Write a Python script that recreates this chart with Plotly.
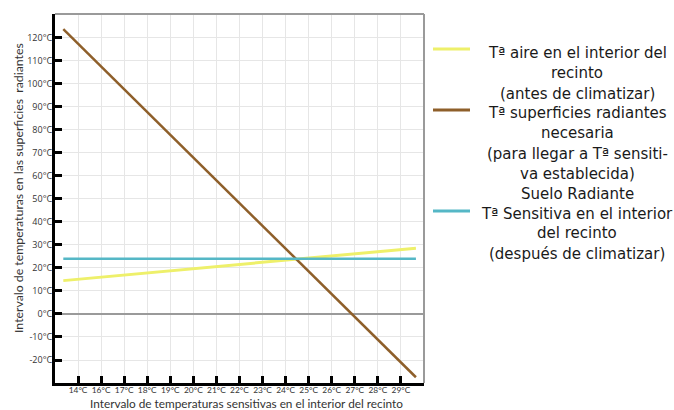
import plotly.graph_objects as go

# ---- data ----
x_labels = ["14°C", "16°C", "17°C", "18°C", "19°C", "20°C", "21°C", "22°C",
            "23°C", "24°C", "25°C", "26°C", "27°C", "28°C", "29°C"]
x_positions = list(range(len(x_labels)))
y_tick_values = [-20, -10, 0, 10, 20, 30, 40, 50, 60, 70, 80, 90, 100, 110, 120]
y_tick_labels = [f"{v}°C" for v in y_tick_values]

# line end points, in tick-position units along the x axis
line_x = [-0.64, 14.65]
aire_antes = [14.5, 28.6]          # Tª aire en el interior (antes de climatizar)
superficies = [123.8, -27.5]       # Tª superficies radiantes necesaria
sensitiva = [24.0, 24.0]           # Tª sensitiva (después de climatizar)

series_names = [
    "Tª aire en el interior del recinto (antes de climatizar)",
    "Tª superficies radiantes necesaria",
    "Tª Sensitiva en el interior del recinto",
]
series_values = [aire_antes, superficies, sensitiva]
series_colors = ["#eef06a", "#8e5f2a", "#55b7c6"]
series_widths = [3, 2.5, 2.5]

legend_lines = ["Tª aire en el interior del", "recinto", "(antes de climatizar)",
                "Tª superficies radiantes", "necesaria", "(para llegar a Tª sensiti-",
                "va establecida)", "Suelo Radiante", "Tª Sensitiva en el interior",
                "del recinto", "(después de climatizar)"]

# ---- layout geometry ----
W, H = 674, 410
ML, MR, MT, MB = 55, 250, 14, 27
PW, PH = W - ML - MR, H - MT - MB


def px_x(px):
    return (px - ML) / PW


def px_y(py):
    return (H - MB - py) / PH


fig = go.Figure()
for name, vals, col, wd in zip(series_names, series_values, series_colors, series_widths):
    fig.add_trace(go.Scatter(x=line_x, y=vals, mode="lines", name=name,
                             line=dict(color=col, width=wd), showlegend=False,
                             hoverinfo="skip"))

shapes = [
    dict(type="line", xref="paper", yref="paper", x0=0, x1=1, y0=1, y1=1,
         line=dict(color="#9a9a9a", width=2)),
    dict(type="line", xref="paper", yref="paper", x0=1, x1=1, y0=0, y1=1,
         line=dict(color="#9a9a9a", width=2)),
]
legend_y = [49, 110, 211]
for col, ly in zip(series_colors, legend_y):
    shapes.append(dict(type="line", xref="paper", yref="paper",
                       x0=px_x(433), x1=px_x(470), y0=px_y(ly), y1=px_y(ly),
                       line=dict(color=col, width=3)))

line_centres = [53, 73, 94, 113, 133, 154, 174, 194, 214, 233, 254]
annotations = []
for txt, cy in zip(legend_lines, line_centres):
    annotations.append(dict(text=txt, xref="paper", yref="paper", x=px_x(577), y=px_y(cy),
                            xanchor="center", yanchor="middle", showarrow=False,
                            font=dict(family="DejaVu Sans", size=15, color="#1a1a1a")))
annotations += [
    dict(text="Intervalo de temperaturas en las superficies  radiantes",
         xref="paper", yref="paper", x=px_x(18), y=px_y(188), textangle=-90,
         xanchor="center", yanchor="middle", showarrow=False,
         font=dict(family="Lato", size=12.3, color="#333333")),
    dict(text="Intervalo de temperaturas sensitivas en el interior del recinto",
         xref="paper", yref="paper", x=px_x(246), y=px_y(403),
         xanchor="center", yanchor="middle", showarrow=False,
         font=dict(family="Lato", size=11.8, color="#333333")),
]

fig.update_layout(
    width=W, height=H,
    margin=dict(l=ML, r=MR, t=MT, b=MB),
    paper_bgcolor="white", plot_bgcolor="white",
    shapes=shapes, annotations=annotations,
    xaxis=dict(range=[-1, 15.0], tickmode="array", tickvals=x_positions,
               ticktext=x_labels, ticks="inside", ticklen=7, tickwidth=2.5,
               tickcolor="black", showline=True, linecolor="black", linewidth=3,
               showgrid=True, gridcolor="#e6e6e6", gridwidth=1, zeroline=False,
               tickfont=dict(family="Lato", size=8.4, color="#333333"),
               ticklabelstandoff=-3, fixedrange=True),
    yaxis=dict(range=[-30, 130.4], tickmode="array", tickvals=y_tick_values,
               ticktext=y_tick_labels, ticks="inside", ticklen=7, tickwidth=2.5,
               tickcolor="black", showline=True, linecolor="black", linewidth=3,
               showgrid=True, gridcolor="#e6e6e6", gridwidth=1,
               zeroline=True, zerolinecolor="#9a9a9a", zerolinewidth=2,
               tickfont=dict(family="Open Sans", size=9, color="#333333"),
               ticklabelstandoff=-2, fixedrange=True),
)

fig.write_html("out.html", config={"displayModeBar": False},
               post_script="document.body.style.margin='0px';document.body.style.padding='0px';")
